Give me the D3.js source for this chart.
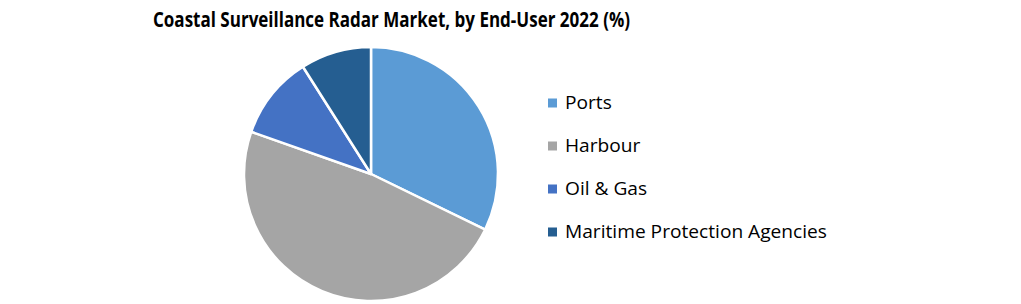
<!DOCTYPE html>
<html>
<head>
<meta charset="utf-8">
<script src="https://cdn.jsdelivr.net/npm/d3@7"></script>
<style>
  body { margin: 0; background: #fff; }
  text { font-family: "Open Sans", "Noto Sans", sans-serif; fill: #000; }
</style>
</head>
<body>
<div id="chart"></div>
<script>
// Data
const categories = ["Ports", "Harbour", "Oil & Gas", "Maritime Protection Agencies"];
const shares = [32.2, 48.2, 10.6, 9.0];
const colors = ["#5B9BD5", "#A5A5A5", "#4472C4", "#255E91"];
const title = "Coastal Surveillance Radar Market, by End-User 2022 (%)";

const width = 1021, height = 304;
const svg = d3.select("#chart").append("svg")
  .attr("width", width)
  .attr("height", height);

// Title, squeezed to the width it has in the reference (narrow font there)
svg.append("text")
  .attr("x", 153)
  .attr("y", 27)
  .attr("font-weight", "bold")
  .attr("font-size", 21)
  .attr("textLength", 477)
  .attr("lengthAdjust", "spacingAndGlyphs")
  .text(title);

// Pie
const cx = 371, cy = 174, r = 127;
const pie = d3.pie().sort(null).value(d => d.value);
const arc = d3.arc().innerRadius(0).outerRadius(r);
const slices = categories.map((c, i) => ({ name: c, value: shares[i] }));
const color = d3.scaleOrdinal().domain(categories).range(colors);

svg.append("g")
  .attr("transform", `translate(${cx},${cy})`)
  .selectAll("path")
  .data(pie(slices))
  .join("path")
  .attr("d", arc)
  .attr("fill", d => color(d.data.name))
  .attr("stroke", "#fff")
  .attr("stroke-width", 2.5)
  .attr("stroke-linejoin", "round");

// Legend
const legendY = d3.scalePoint().domain(categories).range([103, 232]);
const legend = svg.append("g")
  .selectAll("g")
  .data(categories)
  .join("g")
  .attr("transform", d => `translate(548,${legendY(d)})`);

legend.append("rect")
  .attr("x", 0)
  .attr("y", -4.5)
  .attr("width", 9)
  .attr("height", 9)
  .attr("fill", d => color(d));

const labels = legend.append("text")
  .attr("x", 17)
  .attr("dy", "0.35em")
  .attr("font-size", 17.5)
  .text(d => d);

// squeeze labels so the longest one is ~262px wide as in the reference
const longest = labels.nodes()[3].getComputedTextLength();
const k = 262 / longest;
labels.each(function () {
  const w = this.getComputedTextLength();
  d3.select(this).attr("textLength", w * k).attr("lengthAdjust", "spacingAndGlyphs");
});
</script>
</body>
</html>
